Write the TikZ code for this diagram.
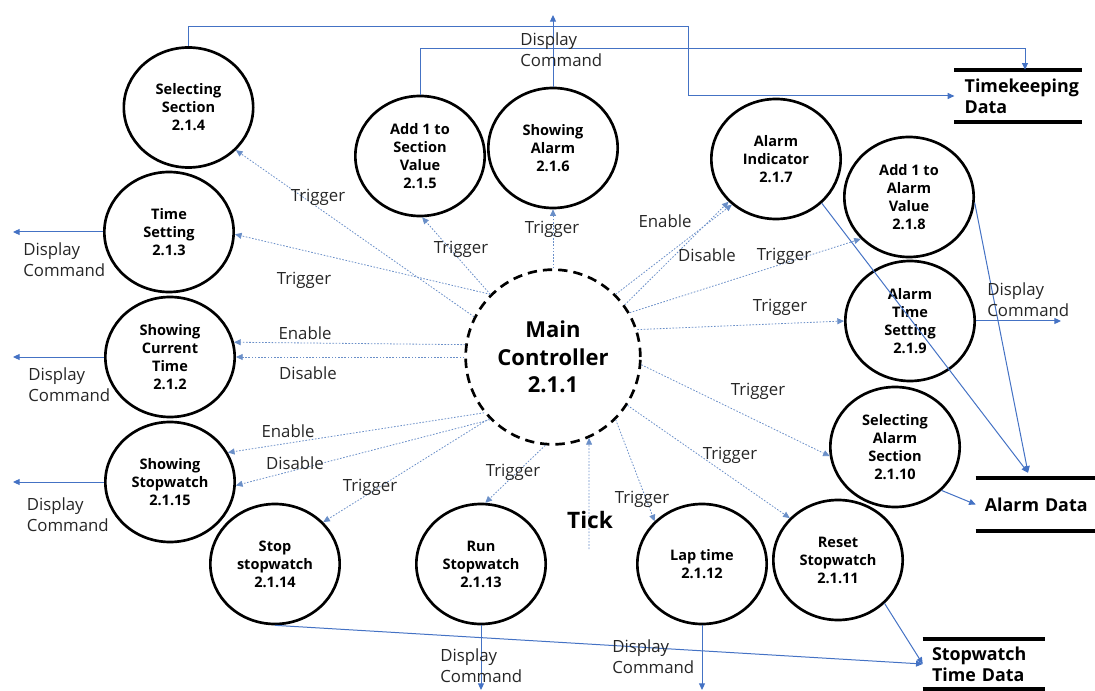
\documentclass[tikz,border=0pt]{standalone}
\usepackage{fontspec}
\setmainfont{Open Sans}
\usetikzlibrary{shapes.geometric,arrows.meta}
\definecolor{flowc}{HTML}{4472C4}
\definecolor{ctrlc}{HTML}{6A8FC8}
\definecolor{txtc}{HTML}{262626}
\begin{document}
\begin{tikzpicture}[x=0.75pt,y=-0.75pt,
  proc/.style={ellipse,draw,line width=2pt,minimum width=97pt,minimum height=90pt,inner sep=0pt,align=center,font=\bfseries\fontsize{10.9}{13.5}\selectfont},
  mainproc/.style={circle,draw,line width=2pt,dash pattern=on 7pt off 4.5pt,minimum size=131pt,inner sep=0pt,align=center,font=\bfseries\fontsize{16.5}{20.6}\selectfont},
  flow/.style={draw=flowc,line width=0.75pt,-{Triangle[length=5pt,width=4.5pt]}},
  ctrl/.style={draw=ctrlc,line width=0.6pt,dash pattern=on 1.2pt off 1.2pt,-{Triangle[length=5pt,width=4.5pt]}},
  lbl/.style={font=\fontsize{12.6}{15.5}\selectfont,text=txtc,inner sep=0pt},
  dcmd/.style={lbl,anchor=west,align=left},
  store/.style={inner ysep=0pt,align=left,font=\bfseries\fontsize{13.4}{15.75}\selectfont},
  bar/.style={line width=3pt},
]
\useasboundingbox (0,0) rectangle (1095,691);

% processes
\node[mainproc] (main) at (553,357) {Main\\Controller\\2.1.1};
\node[proc] (sec4) at (188.5,107.5) {Selecting\\Section\\2.1.4};
\node[proc] (ts) at (169,232) {Time\\Setting\\2.1.3};
\node[proc] (ct) at (170,357) {Showing\\Current\\Time\\2.1.2};
\node[proc] (ssw) at (170,482) {Showing\\Stopwatch\\2.1.15};
\node[proc] (stop) at (275,564) {Stop\\stopwatch\\2.1.14};
\node[proc] (run) at (481,564) {Run\\Stopwatch\\2.1.13};
\node[proc] (lap) at (702,564) {Lap time\\2.1.12};
\node[proc] (reset) at (838,560) {Reset\\Stopwatch\\2.1.11};
\node[proc] (sas) at (895,447) {Selecting\\Alarm\\Section\\2.1.10};
\node[proc] (ats) at (910,321) {Alarm\\Time\\Setting\\2.1.9};
\node[proc] (aav) at (909,197) {Add 1 to\\Alarm\\Value\\2.1.8};
\node[proc] (ai) at (776,159) {Alarm\\Indicator\\2.1.7};
\node[proc] (sa) at (553,148) {Showing\\Alarm\\2.1.6};
\node[proc] (asv) at (420,156) {Add 1 to\\Section\\Value\\2.1.5};

% data stores
\node[store,minimum width=91.5pt,minimum height=39pt,text width=80pt,inner xsep=7.5pt] (tk) at (1018,96) {Timekeeping\\Data};
\node[store,minimum width=89.25pt,minimum height=39.75pt,text width=76pt,inner xsep=6.6pt] (ad) at (1035.5,504.5) {\raisebox{-3pt}{Alarm Data}};
\node[store,minimum width=91.5pt,minimum height=37.5pt,text width=78pt,inner xsep=6.75pt] (swd) at (984,664) {Stopwatch\\Time Data};
\foreach \s in {tk,ad,swd}{
  \draw[bar] (\s.north west) -- (\s.north east);
  \draw[bar] (\s.south west) -- (\s.south east);
}

% free ends
\coordinate (o6) at (553,15);
\coordinate (o3) at (13,232);
\coordinate (o2) at (13,357);
\coordinate (o15) at (13,482);
\coordinate (o13) at (481,690);
\coordinate (o12) at (702,690);
\coordinate (o9) at (1061,321);
\coordinate (tick0) at (589,549);

% data flows
\draw[flow] (sec4.north) |- (688,27) |- (tk.west);
\draw[flow] (asv.north) |- (1025,48.5) -- ([xshift=5.25pt]tk.north);
\draw[flow] (sa.north) -- (o6);
\node[dcmd] (l1) at (520,49.5) {Display\\Command};
\draw[flow] (ts.west) -- (o3);
\node[dcmd] (l2) at (23,260) {Display\\Command};
\draw[flow] (ct.west) -- (o2);
\node[dcmd] (l3) at (28,385) {Display\\Command};
\draw[flow] (ssw.west) -- (o15);
\node[dcmd] (l4) at (26.5,515) {Display\\Command};
\draw[flow] (stop.south) -- (swd.west);
\draw[flow] (run.south) -- (o13);
\node[dcmd] (l5) at (440,665.5) {Display\\Command};
\draw[flow] (lap.south) -- (o12);
\node[dcmd] (l6) at (612,657) {Display\\Command};
\draw[flow] (reset.-43) -- (swd.west);
\draw[flow] (sas.-43) -- (ad.west);
\draw[flow] (ai.-44) -- ([xshift=-5.6pt,yshift=3.75pt]ad.north);
\draw[flow] (aav.-5) -- ([xshift=-5.6pt,yshift=3.75pt]ad.north);
\draw[flow] (ats.east) -- (o9);
\node[dcmd] (l7) at (987,300) {Display\\Command};

% control flows
\draw[ctrl] (main.153.7) -- (sec4.318);
\node[lbl] at (318,197) {Trigger};
\draw[ctrl] (main.135) -- (ts.-2);
\node[lbl] at (304,280) {Trigger};
\draw[ctrl] (main.135) -- (asv.272);
\node[lbl] at (461,249) {Trigger};
\draw[ctrl] (main.90) -- (sa.270);
\node[lbl] at (552,229) {Trigger};
\draw[ctrl] (main.45) -- (ai.226);
\node[lbl] at (665,221) {Enable};
\draw[ctrl] (main.36) -- (ai.222);
\node[lbl] at (707,255) {Disable};
\draw[ctrl] (main.30) -- (aav.221);
\node[lbl] at (784,256) {Trigger};
\draw[ctrl] (main.18) -- (ats.180);
\node[lbl] at (780,307) {Trigger};
\draw[ctrl] (main.-5) -- (sas.188);
\node[lbl] at (758,391) {Trigger};
\draw[ctrl] (main.-33) -- (reset.139);
\node[lbl] at (730,455) {Trigger};
\draw[ctrl] (main.-45) -- (lap.138);
\node[lbl] at (642,499) {Trigger};
\draw[ctrl] (tick0) -- (main.-66);
\node[font=\bfseries\fontsize{17}{19}\selectfont,inner sep=0pt] (tick) at (590,520) {Tick};
\draw[ctrl] (main.265) -- (run.86);
\node[lbl] at (513,472) {Trigger};
\draw[ctrl] (main.224) -- (stop.41);
\node[lbl] at (370,487) {Trigger};
\draw[ctrl] (main.219) -- (ssw.27);
\node[lbl] at (288,431) {Enable};
\draw[ctrl] (main.225) -- (ssw.-3);
\node[lbl] at (295,463) {Disable};
\draw[ctrl] (main.172) -- (ct.13);
\node[lbl] at (305,333) {Enable};
\draw[ctrl] (main.180) -- (ct.0);
\node[lbl] at (308,373) {Disable};
\end{tikzpicture}
\end{document}
